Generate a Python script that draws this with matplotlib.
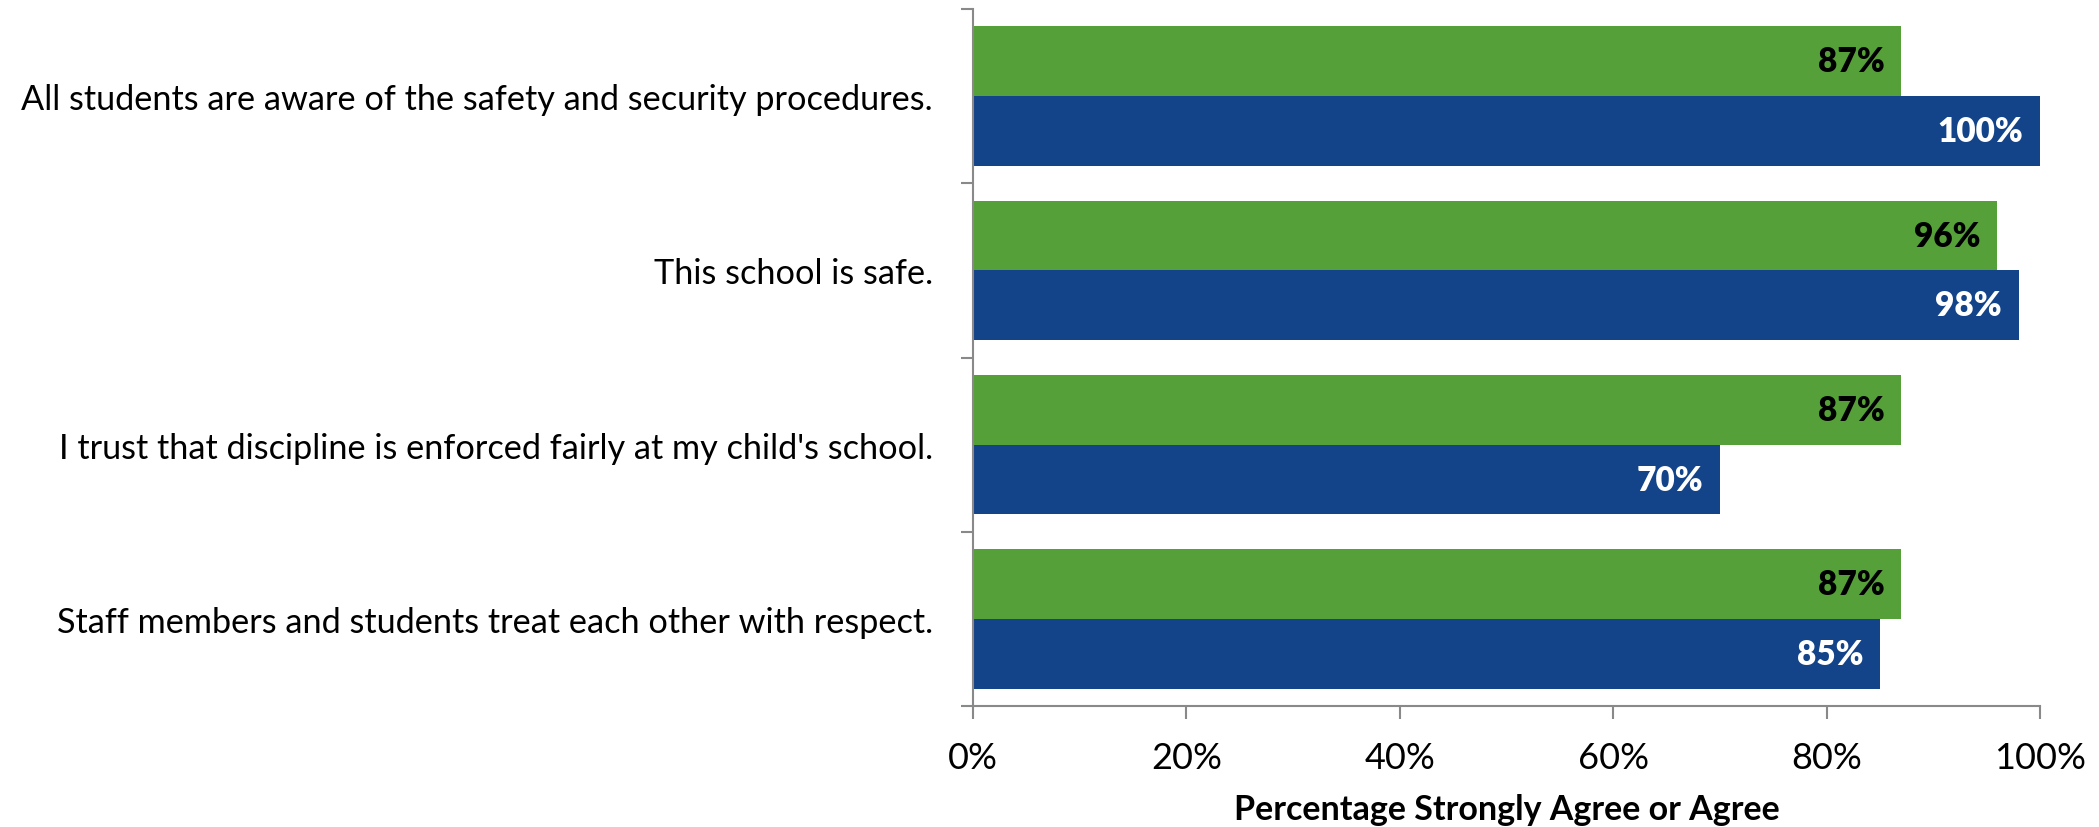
import matplotlib
matplotlib.use("Agg")
import matplotlib.pyplot as plt
import numpy as np
from matplotlib.ticker import FixedLocator, PercentFormatter

plt.rcParams['font.family'] = ['Lato', 'DejaVu Sans']

statements = [
    "All students are aware of the safety and security procedures.",
    "This school is safe.",
    "I trust that discipline is enforced fairly at my child's school.",
    "Staff members and students treat each other with respect.",
]
green_vals = [87, 96, 87, 87]
blue_vals = [100, 98, 70, 85]

green = "#55A038"
blue = "#134389"
grey = "#898989"

fig = plt.figure(figsize=(20.99, 8.28), dpi=100)
ax = fig.add_axes([0.4636, 0.1461, 0.9719 - 0.4636, 0.9879 - 0.1461])

y = np.arange(len(statements))
h = 0.4
gb = ax.barh(y - h / 2, green_vals, height=h, color=green)
bb = ax.barh(y + h / 2, blue_vals, height=h, color=blue)

for rect, v in zip(gb, green_vals):
    ax.annotate(f"{v}%", (v, rect.get_y() + rect.get_height() / 2),
                xytext=(-12, 0), textcoords="offset points",
                ha="right", va="center", fontsize=24, fontweight="heavy", color="black")
for rect, v in zip(bb, blue_vals):
    ax.annotate(f"{v}%", (v, rect.get_y() + rect.get_height() / 2),
                xytext=(-12, 0), textcoords="offset points",
                ha="right", va="center", fontsize=24, fontweight="heavy", color="white")

ax.set_xlim(0, 100)
ax.set_ylim(len(statements) - 0.5, -0.5)
ax.xaxis.set_major_locator(FixedLocator([0, 20, 40, 60, 80, 100]))
ax.xaxis.set_major_formatter(PercentFormatter(decimals=0))

ax.yaxis.set_major_locator(FixedLocator(np.arange(-0.5, len(statements), 1)))
ax.set_yticklabels([])
ax.yaxis.set_minor_locator(FixedLocator(y))
ax.set_yticklabels(statements, minor=True)
ax.tick_params(axis="y", which="minor", length=0, pad=29, labelsize=24.7)
ax.tick_params(axis="y", which="major", length=9, width=1.5, color=grey, direction="out")
ax.tick_params(axis="x", length=9, width=1.5, color=grey, direction="out", pad=16, labelsize=26)

for s in ["top", "right"]:
    ax.spines[s].set_visible(False)
for s in ["left", "bottom"]:
    ax.spines[s].set_color(grey)
    ax.spines[s].set_linewidth(1.5)

ax.set_xlabel("Percentage Strongly Agree or Agree", fontsize=24.5, fontweight="bold", labelpad=14)

fig.savefig("out.png", dpi=100)
